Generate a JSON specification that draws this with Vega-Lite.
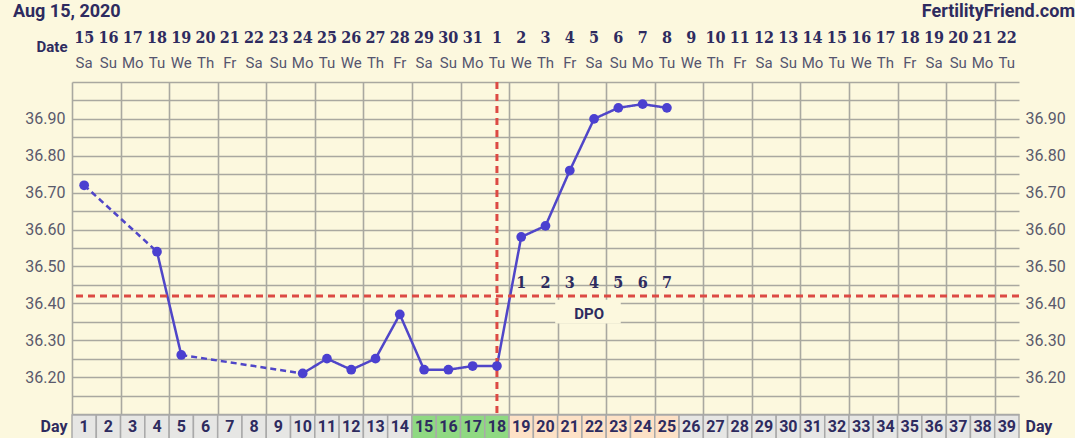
{
  "$schema": "https://vega.github.io/schema/vega-lite/v6.json",
  "background": "#fcf8de",
  "padding": {"left": 13, "top": 3, "right": 0, "bottom": 0},
  "config": {"view": {"stroke": null}},
  "title": {"text": "Aug 15, 2020", "anchor": "start", "frame": "group", "dx": -59, "offset": -18, "font": "Roboto", "fontSize": 18, "fontWeight": "bold", "color": "#2e2b5f"},
  "datasets": {
    "temps": [
      {"day": 1, "temp": 36.72}, {"day": 4, "temp": 36.54}, {"day": 5, "temp": 36.26},
      {"day": 10, "temp": 36.21}, {"day": 11, "temp": 36.25}, {"day": 12, "temp": 36.22},
      {"day": 13, "temp": 36.25}, {"day": 14, "temp": 36.37}, {"day": 15, "temp": 36.22},
      {"day": 16, "temp": 36.22}, {"day": 17, "temp": 36.23}, {"day": 18, "temp": 36.23},
      {"day": 19, "temp": 36.58}, {"day": 20, "temp": 36.61}, {"day": 21, "temp": 36.76},
      {"day": 22, "temp": 36.90}, {"day": 23, "temp": 36.93}, {"day": 24, "temp": 36.94},
      {"day": 25, "temp": 36.93}
    ],
    "segs": [
      {"seg": "a", "style": "dashed", "day": 1, "temp": 36.72},
      {"seg": "a", "style": "dashed", "day": 4, "temp": 36.54},
      {"seg": "b", "style": "solid", "day": 4, "temp": 36.54},
      {"seg": "b", "style": "solid", "day": 5, "temp": 36.26},
      {"seg": "c", "style": "dashed", "day": 5, "temp": 36.26},
      {"seg": "c", "style": "dashed", "day": 10, "temp": 36.21},
      {"seg": "d", "style": "solid", "day": 10, "temp": 36.21},
      {"seg": "d", "style": "solid", "day": 11, "temp": 36.25},
      {"seg": "d", "style": "solid", "day": 12, "temp": 36.22},
      {"seg": "d", "style": "solid", "day": 13, "temp": 36.25},
      {"seg": "d", "style": "solid", "day": 14, "temp": 36.37},
      {"seg": "d", "style": "solid", "day": 15, "temp": 36.22},
      {"seg": "d", "style": "solid", "day": 16, "temp": 36.22},
      {"seg": "d", "style": "solid", "day": 17, "temp": 36.23},
      {"seg": "d", "style": "solid", "day": 18, "temp": 36.23},
      {"seg": "d", "style": "solid", "day": 19, "temp": 36.58},
      {"seg": "d", "style": "solid", "day": 20, "temp": 36.61},
      {"seg": "d", "style": "solid", "day": 21, "temp": 36.76},
      {"seg": "d", "style": "solid", "day": 22, "temp": 36.90},
      {"seg": "d", "style": "solid", "day": 23, "temp": 36.93},
      {"seg": "d", "style": "solid", "day": 24, "temp": 36.94},
      {"seg": "d", "style": "solid", "day": 25, "temp": 36.93}
    ],
    "ovu": [{"day": 18, "coverline": 36.42}],
    "dpo": [
      {"day": 19, "dpo": 1}, {"day": 20, "dpo": 2}, {"day": 21, "dpo": 3}, {"day": 22, "dpo": 4},
      {"day": 23, "dpo": 5}, {"day": 24, "dpo": 6}, {"day": 25, "dpo": 7}
    ],
    "days": [
      {"day": 1, "date": "15", "wd": "Sa", "phase": "none"},
      {"day": 2, "date": "16", "wd": "Su", "phase": "none"},
      {"day": 3, "date": "17", "wd": "Mo", "phase": "none"},
      {"day": 4, "date": "18", "wd": "Tu", "phase": "none"},
      {"day": 5, "date": "19", "wd": "We", "phase": "none"},
      {"day": 6, "date": "20", "wd": "Th", "phase": "none"},
      {"day": 7, "date": "21", "wd": "Fr", "phase": "none"},
      {"day": 8, "date": "22", "wd": "Sa", "phase": "none"},
      {"day": 9, "date": "23", "wd": "Su", "phase": "none"},
      {"day": 10, "date": "24", "wd": "Mo", "phase": "none"},
      {"day": 11, "date": "25", "wd": "Tu", "phase": "none"},
      {"day": 12, "date": "26", "wd": "We", "phase": "none"},
      {"day": 13, "date": "27", "wd": "Th", "phase": "none"},
      {"day": 14, "date": "28", "wd": "Fr", "phase": "none"},
      {"day": 15, "date": "29", "wd": "Sa", "phase": "fertile"},
      {"day": 16, "date": "30", "wd": "Su", "phase": "fertile"},
      {"day": 17, "date": "31", "wd": "Mo", "phase": "fertile"},
      {"day": 18, "date": "1", "wd": "Tu", "phase": "fertile"},
      {"day": 19, "date": "2", "wd": "We", "phase": "dpo"},
      {"day": 20, "date": "3", "wd": "Th", "phase": "dpo"},
      {"day": 21, "date": "4", "wd": "Fr", "phase": "dpo"},
      {"day": 22, "date": "5", "wd": "Sa", "phase": "dpo"},
      {"day": 23, "date": "6", "wd": "Su", "phase": "dpo"},
      {"day": 24, "date": "7", "wd": "Mo", "phase": "dpo"},
      {"day": 25, "date": "8", "wd": "Tu", "phase": "dpo"},
      {"day": 26, "date": "9", "wd": "We", "phase": "none"},
      {"day": 27, "date": "10", "wd": "Th", "phase": "none"},
      {"day": 28, "date": "11", "wd": "Fr", "phase": "none"},
      {"day": 29, "date": "12", "wd": "Sa", "phase": "none"},
      {"day": 30, "date": "13", "wd": "Su", "phase": "none"},
      {"day": 31, "date": "14", "wd": "Mo", "phase": "none"},
      {"day": 32, "date": "15", "wd": "Tu", "phase": "none"},
      {"day": 33, "date": "16", "wd": "We", "phase": "none"},
      {"day": 34, "date": "17", "wd": "Th", "phase": "none"},
      {"day": 35, "date": "18", "wd": "Fr", "phase": "none"},
      {"day": 36, "date": "19", "wd": "Sa", "phase": "none"},
      {"day": 37, "date": "20", "wd": "Su", "phase": "none"},
      {"day": 38, "date": "21", "wd": "Mo", "phase": "none"},
      {"day": 39, "date": "22", "wd": "Tu", "phase": "none"}
    ]
  },
  "bounds": "flush",
  "spacing": 1,
  "vconcat": [
    {
      "width": 947,
      "height": 54,
      "title": {"text": "FertilityFriend.com", "anchor": "end", "frame": "group", "dx": 56, "offset": 6, "font": "Roboto", "fontSize": 18, "fontWeight": "bold", "color": "#2e2b5f"},
      "data": {"name": "days"},
      "layer": [
        {
          "mark": {"type": "text", "font": "DejaVu Serif Condensed, DejaVu Serif", "fontSize": 16, "fontWeight": "bold", "color": "#2e2b5f", "baseline": "middle"},
          "encoding": {
            "x": {"field": "day", "type": "quantitative", "scale": {"domain": [0.5, 39.5], "nice": false, "zero": false}, "axis": null},
            "y": {"datum": "Date", "type": "ordinal", "scale": {"domain": ["Date", "Weekday"], "range": [11, 36], "padding": 0},
                  "axis": {"orient": "left", "title": null, "ticks": false, "domain": false, "labelExpr": "datum.value == 'Date' ? 'Date' : ''", "labelFont": "Roboto", "labelFontSize": 15, "labelFontWeight": "bold", "labelColor": "#2e2b5f", "labelPadding": 5, "labelOffset": 8}},
            "text": {"field": "date"}
          }
        },
        {
          "mark": {"type": "text", "font": "Roboto", "fontSize": 15, "color": "#55556e", "baseline": "middle"},
          "encoding": {
            "x": {"field": "day", "type": "quantitative"},
            "y": {"datum": "Weekday", "type": "ordinal"},
            "text": {"field": "wd"}
          }
        }
      ]
    },
    {
      "width": 947,
      "height": 332,
      "layer": [
        {
          "data": {"name": "segs"},
          "mark": {"type": "line", "color": "#5046c8", "strokeWidth": 2.5},
          "encoding": {
            "x": {"field": "day", "type": "quantitative", "scale": {"domain": [0.5, 39.5], "nice": false, "zero": false},
                  "axis": {"values": [0.5,1.5,2.5,3.5,4.5,5.5,6.5,7.5,8.5,9.5,10.5,11.5,12.5,13.5,14.5,15.5,16.5,17.5,18.5,19.5,20.5,21.5,22.5,23.5,24.5,25.5,26.5,27.5,28.5,29.5,30.5,31.5,32.5,33.5,34.5,35.5,36.5,37.5,38.5,39.5], "grid": true, "gridColor": "#a9a8a0", "gridWidth": 1.6, "labels": false, "ticks": false, "domain": false, "title": null}},
            "y": {"field": "temp", "type": "quantitative", "scale": {"domain": [36.1, 37.0], "nice": false, "zero": false},
                  "axis": {"orient": "left", "values": [36.1,36.15,36.2,36.25,36.3,36.35,36.4,36.45,36.5,36.55,36.6,36.65,36.7,36.75,36.8,36.85,36.9,36.95,37.0], "grid": true, "gridColor": "#a9a8a0", "gridWidth": 1.6, "ticks": false, "domain": false, "title": null,
                           "labelExpr": "(abs(datum.value*10 - round(datum.value*10)) < 0.01 && datum.value > 36.15 && datum.value < 36.95) ? format(datum.value, '.2f') : ''",
                           "labelFont": "Roboto", "labelFontSize": 16, "labelColor": "#5a5a6c", "labelPadding": 7}},
            "detail": {"field": "seg"},
            "strokeDash": {"field": "style", "type": "nominal", "scale": {"domain": ["solid", "dashed"], "range": [[1, 0], [6, 4]]}, "legend": null}
          }
        },
        {
          "data": {"name": "ovu"},
          "mark": {"type": "rule", "color": "#dc4a44", "strokeWidth": 3, "strokeDash": [7, 5]},
          "encoding": {"x": {"field": "day", "type": "quantitative"}}
        },
        {
          "data": {"name": "ovu"},
          "mark": {"type": "rule", "color": "#dc4a44", "strokeWidth": 3, "strokeDash": [7, 5]},
          "encoding": {"y": {"field": "coverline", "type": "quantitative", "axis": null}}
        },
        {
          "data": {"name": "ovu"},
          "mark": {"type": "rect", "color": "#fcf8de"},
          "encoding": {
            "x": {"datum": 20.4, "type": "quantitative"}, "x2": {"datum": 23.1},
            "y": {"datum": 36.345, "type": "quantitative", "axis": null}, "y2": {"datum": 36.41}
          }
        },
        {
          "data": {"name": "ovu"},
          "mark": {"type": "text", "font": "Roboto", "fontSize": 15, "fontWeight": "bold", "color": "#2e2b5f", "baseline": "middle"},
          "encoding": {
            "x": {"datum": 21.8, "type": "quantitative"},
            "y": {"datum": 36.372, "type": "quantitative", "axis": null},
            "text": {"value": "DPO"}
          }
        },
        {
          "data": {"name": "dpo"},
          "mark": {"type": "text", "font": "DejaVu Serif Condensed, DejaVu Serif", "fontSize": 16, "fontWeight": "bold", "color": "#2e2b5f", "baseline": "middle", "dy": -13},
          "encoding": {
            "x": {"field": "day", "type": "quantitative"},
            "y": {"datum": 36.42, "type": "quantitative", "axis": null},
            "text": {"field": "dpo"}
          }
        },
        {
          "data": {"name": "temps"},
          "mark": {"type": "circle", "color": "#4b40d0", "size": 95, "opacity": 1},
          "encoding": {
            "x": {"field": "day", "type": "quantitative"},
            "y": {"field": "temp", "type": "quantitative",
                  "axis": {"orient": "right", "values": [36.1,36.15,36.2,36.25,36.3,36.35,36.4,36.45,36.5,36.55,36.6,36.65,36.7,36.75,36.8,36.85,36.9,36.95,37.0], "grid": false, "ticks": false, "domain": false, "title": null,
                           "labelExpr": "(abs(datum.value*10 - round(datum.value*10)) < 0.01 && datum.value > 36.15 && datum.value < 36.95) ? format(datum.value, '.2f') : ''",
                           "labelFont": "Roboto", "labelFontSize": 16, "labelColor": "#5a5a6c", "labelPadding": 6}}
          }
        }
      ],
      "resolve": {"axis": {"y": "independent"}}
    },
    {
      "width": 947,
      "height": 24,
      "data": {"name": "days"},
      "layer": [
        {
          "mark": {"type": "rect", "stroke": "#a9a9a9", "strokeWidth": 1.5},
          "encoding": {
            "x": {"field": "day", "type": "ordinal", "scale": {"type": "band", "paddingInner": 0, "paddingOuter": 0}, "axis": null},
            "y": {"datum": "Day", "type": "nominal", "scale": {"type": "band", "paddingInner": 0, "paddingOuter": 0},
                  "axis": {"orient": "left", "title": null, "ticks": false, "domain": false, "labelFont": "Roboto", "labelFontSize": 16, "labelFontWeight": "bold", "labelColor": "#2e2b5f", "labelPadding": 5}},
            "color": {"field": "phase", "type": "nominal", "scale": {"domain": ["none", "fertile", "dpo"], "range": ["#e6e6e4", "#8fd982", "#fde1c6"]}, "legend": null}
          }
        },
        {
          "mark": {"type": "text", "font": "Roboto", "fontSize": 16, "fontWeight": "bold", "color": "#2e2b5f", "baseline": "middle"},
          "encoding": {
            "x": {"field": "day", "type": "ordinal"},
            "y": {"datum": "Day", "type": "nominal",
                  "axis": {"orient": "right", "title": null, "ticks": false, "domain": false, "labelFont": "Roboto", "labelFontSize": 16, "labelFontWeight": "bold", "labelColor": "#2e2b5f", "labelPadding": 6}},
            "text": {"field": "day"}
          }
        }
      ],
      "resolve": {"axis": {"y": "independent"}}
    }
  ]
}
